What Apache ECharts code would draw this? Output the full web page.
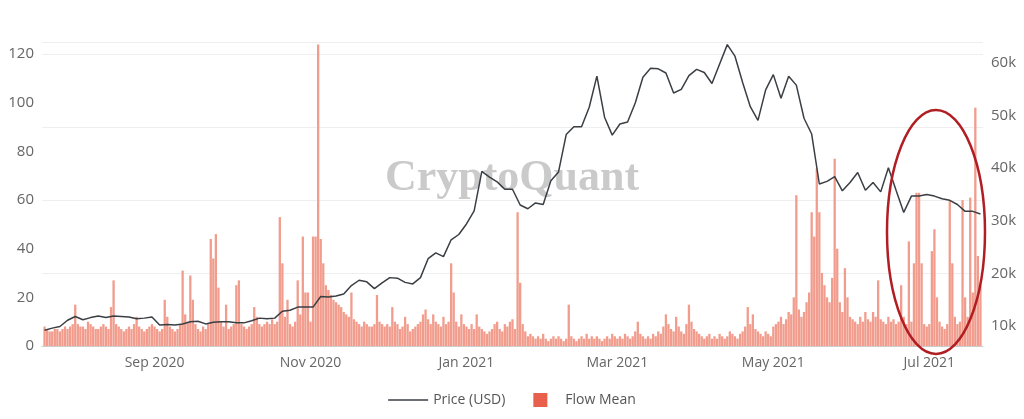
<!DOCTYPE html>
<html><head><meta charset="utf-8">
<script src="https://cdn.jsdelivr.net/npm/echarts@6/dist/echarts.min.js"></script>
<style>html,body{margin:0;padding:0;background:#fff}#c{width:1024px;height:419px}</style>
</head><body><div id="c"></div>
<script>
const flowStart = '2020-07-20';
const flowMean = [
8,7,6,6,7,7,6,7,8,7,8,9,
17,9,8,8,7,10,9,8,7,7,8,9,8,7,16,27,9,8,7,6,7,8,7,9,12,8,7,6,7,8,9,
8,7,6,7,19,12,8,7,6,7,9,31,13,10,29,19,9,7,6,8,7,9,44,36,46,24,10,8,17,7,
8,9,25,27,9,8,7,8,9,16,12,9,8,9,10,9,11,9,10,53,34,12,19,9,8,10,27,13,45,22,22,
10,45,45,124,44,34,25,23,21,19,18,17,16,14,13,12,22,11,10,9,8,10,9,8,8,9,21,10,9,8,
9,8,16,10,9,7,8,12,9,6,7,8,9,10,13,15,11,9,13,10,9,8,12,9,10,34,22,10,8,13,9,
8,7,9,7,13,8,7,6,5,6,7,9,10,7,6,9,8,10,11,7,55,26,9,6,4,5,4,3,4,3,5,
3,2,3,4,3,4,3,2,3,17,4,3,2,3,4,3,5,3,4,3,4,3,2,3,4,3,5,4,
3,4,3,5,4,3,4,6,10,5,4,3,4,3,5,4,6,5,8,13,9,7,6,12,8,6,5,9,17,10,7,
6,5,4,3,4,5,3,4,3,5,4,3,4,6,5,4,3,5,6,8,16,9,13,7,6,5,4,6,5,4,
8,9,10,12,9,11,14,13,20,62,15,12,14,18,22,55,45,73,55,30,25,20,18,28,77,40,18,14,32,20,12,
11,10,9,12,10,14,11,10,14,12,27,11,10,9,12,10,11,9,10,25,12,9,43,10,34,63,63,34,9,8,
9,39,48,20,10,8,7,9,60,34,12,9,10,60,20,12,61,22,98,37,25
];
const priceStepDays = 3;
const priceUSD = [
9200,9600,9900,11100,11800,11200,11600,11900,11600,11900,11800,11700,11400,11500,11700,
10200,10300,10200,10400,10800,10900,10400,10700,10800,10800,10600,10600,11000,11500,11400,11500,
12800,13000,13600,13600,13600,15600,15500,15700,16100,17700,18700,18400,17100,18200,
19200,19100,18300,18000,19200,22800,23900,23200,26400,27400,29400,31900,39400,38300,37400,36000,36000,
33000,32300,33400,33100,37600,39300,46400,47900,47900,51600,57500,49700,46300,
48400,48800,52400,57300,59000,58900,58100,54300,55000,57600,58800,58200,56100,59800,63500,61300,
56300,51700,49100,54900,57800,53300,57500,55800,49500,46500,37000,37500,38400,35700,37300,
39200,35800,37300,35500,40100,35800,31600,34700,34700,35000,34700,34200,33900,33100,31800,31800,31300
];
const xTickDates = ['2020-09-01','2020-11-01','2021-01-01','2021-03-01','2021-05-01','2021-07-01'];
const leftTicks = [0,20,40,60,80,100,120];
const rightTicks = [10000,20000,30000,40000,50000,60000];

const DAY = 86400000;
const t0 = Date.parse(flowStart + 'T00:00:00Z');
const barData = flowMean.map((v,i)=>[t0+i*DAY, v]);
const lineData = priceUSD.map((v,i)=>[t0+i*priceStepDays*DAY, v]);
const months = ['Jan','Feb','Mar','Apr','May','Jun','Jul','Aug','Sep','Oct','Nov','Dec'];

const chart = echarts.init(document.getElementById('c'));
chart.setOption({
  animation:false,
  grid:{left:42,right:41,top:42,bottom:73},
  legend:{bottom:7,left:'center',itemGap:28,textStyle:{color:'#555',fontSize:14,fontFamily:'Open Sans'},
    data:[{name:'Price (USD)',icon:'path://M0,6L40,6L40,7.5L0,7.5Z',itemStyle:{color:'#3a3f44'}},
          {name:'Flow Mean',icon:'path://M0,0L14,0L14,14L0,14Z',itemStyle:{color:'#e8604c'}}],
    itemWidth:40,itemHeight:14},
  xAxis:{type:'value',min:t0-DAY,max:t0+flowMean.length*DAY,
    axisLine:{show:true,lineStyle:{color:'#ccc'}},axisTick:{show:false},splitLine:{show:false},
    axisLabel:{customValues:xTickDates.map(d=>Date.parse(d+'T00:00:00Z')),color:'#666',fontSize:14,fontFamily:'Open Sans',margin:10,
      formatter:v=>{const d=new Date(v);return months[d.getUTCMonth()]+' '+d.getUTCFullYear();}}},
  yAxis:[
    {type:'value',min:0,max:125,position:'left',
      axisLabel:{customValues:leftTicks,color:'#666',fontSize:15,fontFamily:'Open Sans'},
      axisTick:{show:false},axisLine:{show:false},
      splitLine:{show:true,lineStyle:{color:'#eeeeee'}}},
    {type:'value',min:6200,max:64000,position:'right',
      axisLabel:{customValues:rightTicks,color:'#666',fontSize:15,fontFamily:'Open Sans',formatter:v=>(v/1000)+'k'},
      axisTick:{show:false},axisLine:{show:false},splitLine:{show:false}}
  ],
  graphic:[
    {type:'text',left:'center',top:157,z:0,style:{text:'CryptoQuant',font:'bold 44px "Liberation Serif", serif',fill:'rgba(150,150,150,0.5)'}},
    {type:'ellipse',shape:{cx:936,cy:232,rx:49,ry:122},z:100,style:{fill:'none',stroke:'#b01e23',lineWidth:2.5}}
  ],
  series:[
    {name:'Flow Mean',type:'bar',yAxisIndex:0,data:barData,barWidth:2.3,itemStyle:{color:'#f19c8c'},z:2},
    {name:'Price (USD)',type:'line',yAxisIndex:1,data:lineData,symbol:'none',lineStyle:{color:'#3a3f44',width:1.5},z:3}
  ]
});
</script></body></html>
